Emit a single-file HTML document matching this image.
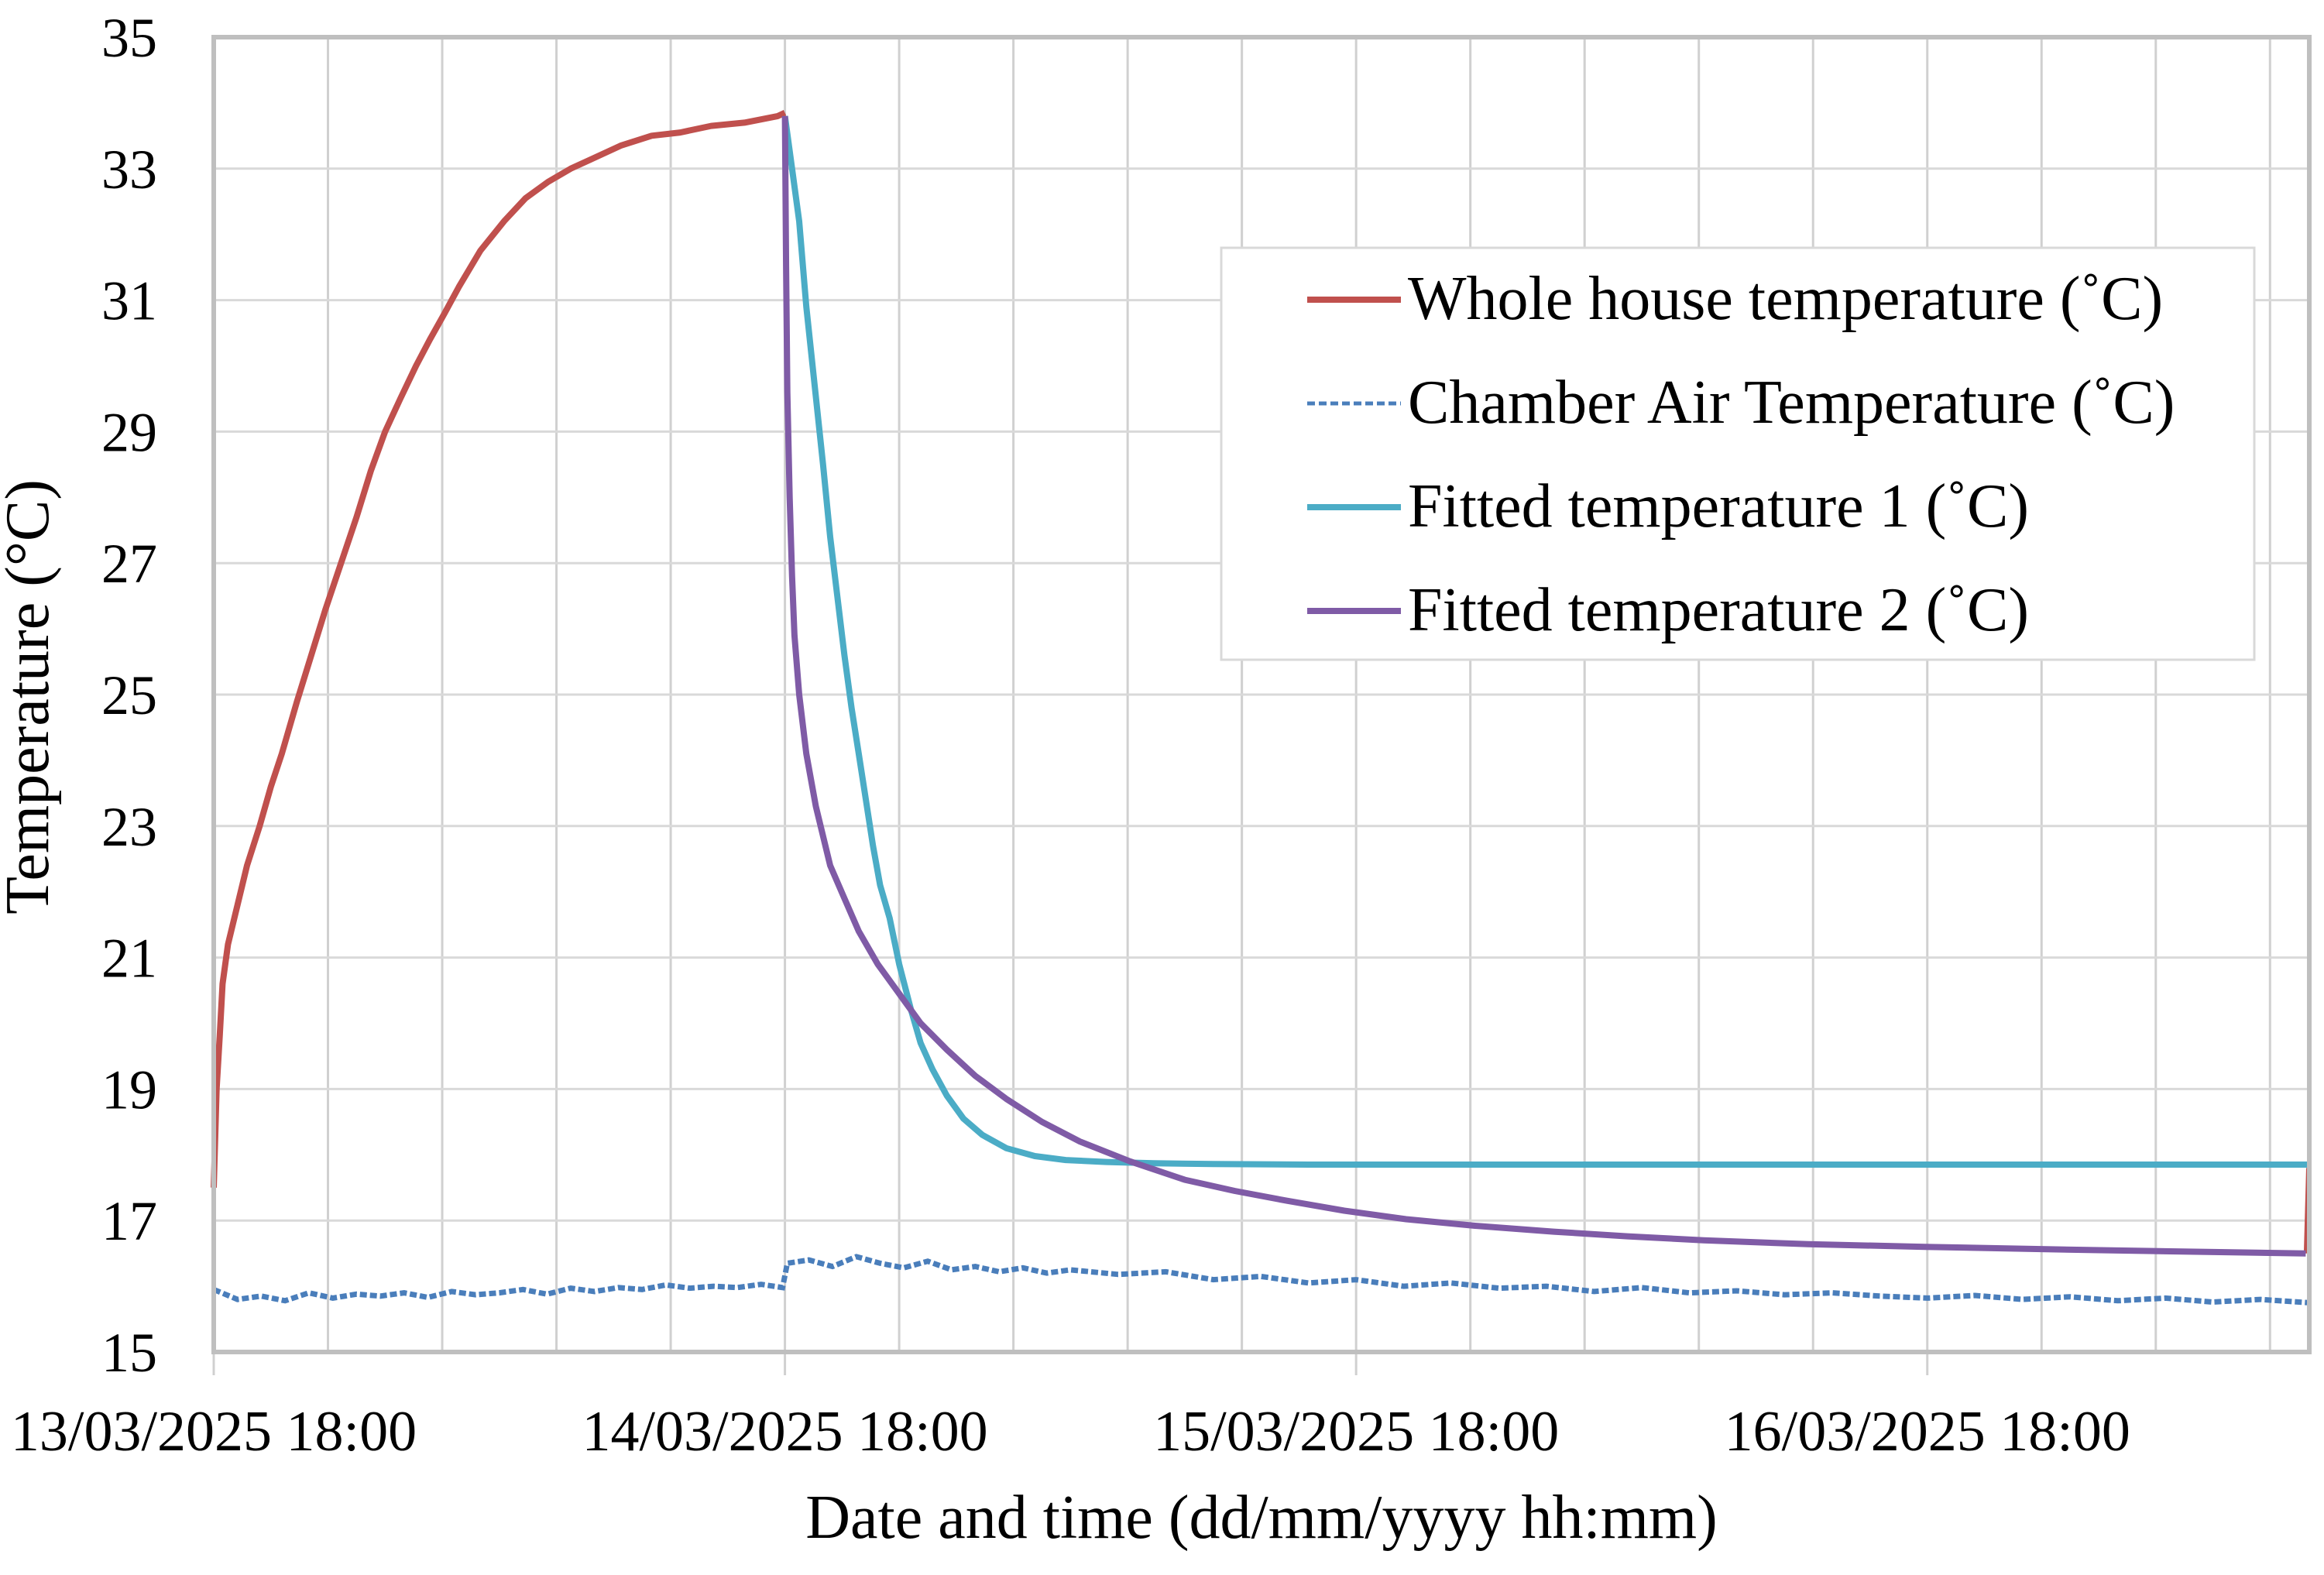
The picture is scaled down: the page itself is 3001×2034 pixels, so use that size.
<!DOCTYPE html>
<html><head><meta charset="utf-8"><style>
html,body{margin:0;padding:0;background:#fff;}
svg{display:block;font-family:"Liberation Serif",serif;}
</style></head><body>
<svg id="chart" width="3001" height="2034" viewBox="0 0 3001 2034">
<g id="grid"></g>
<g id="series"></g>
<g id="axes"></g>
<text x="62" y="900" font-size="80" text-anchor="middle" transform="rotate(-90 62 900)">Temperature (°C)</text>
<text x="1629" y="1986" font-size="80" text-anchor="middle">Date and time (dd/mm/yyyy hh:mm)</text>
<g>
<rect x="1577" y="320" width="1334" height="532" fill="#fff" stroke="#d9d9d9" stroke-width="3"/>
<g><line x1="1688" y1="387" x2="1809" y2="387" stroke="#c0504d" stroke-width="8"/><text x="1818" y="412" font-size="80">Whole house temperature (˚C)</text></g>
<g><line x1="1688" y1="521" x2="1809" y2="521" stroke="#4a7ebb" stroke-width="5" stroke-dasharray="10,5"/><text x="1818" y="546" font-size="80">Chamber Air Temperature (˚C)</text></g>
<g><line x1="1688" y1="655" x2="1809" y2="655" stroke="#4bacc6" stroke-width="8"/><text x="1818" y="680" font-size="80">Fitted temperature 1 (˚C)</text></g>
<g><line x1="1688" y1="789" x2="1809" y2="789" stroke="#7f5ba6" stroke-width="8"/><text x="1818" y="814" font-size="80">Fitted temperature 2 (˚C)</text></g>
</g>
</svg>
<script>
const yTicks=[15,17,19,21,23,25,27,29,31,33,35];
const xTickHours=[0,24,48,72];
const xTickLabels=["13/03/2025 18:00","14/03/2025 18:00","15/03/2025 18:00","16/03/2025 18:00"];
const wholeHouseT=[0,0.12,0.25,0.37,0.6,1.0,1.4,1.93,2.4,2.86,3.5,4.1,4.7,5.35,6.0,6.6,7.2,7.84,8.5,9.08,9.7,10.3,11.2,12.2,13.1,14.05,15.0,15.9,17.1,18.4,19.6,20.9,22.3,23.7,24.0];
const wholeHouseV=[17.5,19.0,19.8,20.6,21.2,21.8,22.4,23.0,23.6,24.1,24.9,25.6,26.3,27.0,27.7,28.4,29.0,29.5,30.0,30.4,30.8,31.2,31.75,32.2,32.55,32.8,33.0,33.15,33.35,33.5,33.55,33.65,33.7,33.8,33.85];
const wholeHouseEndT=[87.9,88.0];
const wholeHouseEndV=[16.5,17.8];
const chamberT=[0,1,2,3,4,5,6,7,8,9,10,11,12,13,14,15,16,17,18,19,20,21,22,23,23.9,24.1,25,26,27,28,29,30,31,32,33,34,35,36,38,40,42,44,46,48,50,52,54,56,58,60,62,64,66,68,70,72,74,76,78,80,82,84,86,88];
const chamberV=[15.95,15.8,15.85,15.78,15.9,15.82,15.88,15.85,15.9,15.83,15.92,15.87,15.9,15.95,15.88,15.97,15.92,15.98,15.95,16.02,15.97,16.0,15.98,16.03,15.98,16.35,16.4,16.3,16.45,16.35,16.28,16.38,16.25,16.3,16.22,16.28,16.2,16.25,16.18,16.22,16.1,16.15,16.05,16.1,16.0,16.05,15.97,16.0,15.92,15.98,15.9,15.93,15.87,15.9,15.85,15.82,15.86,15.8,15.84,15.78,15.82,15.76,15.8,15.75];
const fitted1T=[24.0,24.3,24.6,24.9,25.25,25.6,25.9,26.2,26.5,26.8,27.1,27.4,27.7,28.0,28.4,28.8,29.3,29.7,30.2,30.8,31.5,32.3,33.3,34.5,35.8,37.5,39.5,42,46,88.0];
const fitted1V=[33.8,33.0,32.2,30.9,29.7,28.5,27.4,26.5,25.6,24.8,24.1,23.4,22.7,22.1,21.6,20.9,20.2,19.7,19.3,18.9,18.55,18.3,18.1,17.98,17.92,17.89,17.87,17.86,17.85,17.85];
const fitted2T=[24.0,24.05,24.1,24.2,24.3,24.4,24.6,24.9,25.3,25.9,26.5,27.1,27.9,28.7,29.7,30.8,32.0,33.3,34.8,36.4,38.5,40.8,42.9,45.1,47.5,50.1,53.0,56.3,59.4,62.6,67.0,71.9,79.0,87.9];
const fitted2V=[33.8,31.5,29.6,28.0,26.8,25.9,25.0,24.1,23.3,22.4,21.9,21.4,20.9,20.5,20.0,19.6,19.2,18.85,18.5,18.2,17.9,17.62,17.45,17.3,17.15,17.02,16.92,16.83,16.76,16.7,16.64,16.6,16.55,16.5];

const X0=276,X1=2982,Y0=1746,Y1=48,TMAX=88.05;
function xs(h){return X0+(h/TMAX)*(X1-X0);}
function ys(v){return Y0-(v-15)/20*(Y0-Y1);}
const NS="http://www.w3.org/2000/svg";
function mk(tag,parent,attrs){const e=document.createElementNS(NS,tag);for(const k in attrs)e.setAttribute(k,attrs[k]);parent.appendChild(e);return e;}
const grid=document.getElementById('grid'),axes=document.getElementById('axes'),series=document.getElementById('series');
for(let h=4.8;h<TMAX-0.5;h+=4.8){
  const g=mk('line',grid,{x1:xs(h),x2:xs(h),y1:Y1,y2:Y0,stroke:'#d0d0d0','stroke-width':3});
  
  
}
yTicks.forEach(v=>{
  const g=mk('line',grid,{x1:X0,x2:X1,y1:ys(v),y2:ys(v),stroke:'#d9d9d9','stroke-width':3});
  
  
  const t=mk('text',axes,{x:203,y:ys(v)+25,'font-size':72,'text-anchor':'end'});
  t.textContent=v;
  
  
});
xTickHours.forEach((h,i)=>{
  const tk=mk('line',axes,{x1:xs(h),x2:xs(h),y1:Y0,y2:Y0+30,stroke:'#d0d0d0','stroke-width':3});
  
  
  const t=mk('text',axes,{x:xs(h),y:1873,'font-size':74,'text-anchor':'middle'});
  t.textContent=xTickLabels[i];
  
  
});
const frame=mk('rect',axes,{x:X0,y:Y1,width:X1-X0,height:Y0-Y1,fill:'none',stroke:'#bfbfbf','stroke-width':6});


function path(T,V){return T.map((t,i)=>(i?'L':'M')+xs(t).toFixed(1)+','+ys(V[i]).toFixed(1)).join(' ');}
const p0=mk('path',series,{d:path(chamberT,chamberV),fill:'none',stroke:'#4a7ebb','stroke-width':7,'stroke-dasharray':'9,4'});


const p1=mk('path',series,{d:path(wholeHouseT,wholeHouseV),fill:'none',stroke:'#c0504d','stroke-width':8,'stroke-linejoin':'round'});


const p1b=mk('path',series,{d:path(wholeHouseEndT,wholeHouseEndV),fill:'none',stroke:'#c0504d','stroke-width':5});


const p2=mk('path',series,{d:path(fitted1T,fitted1V),fill:'none',stroke:'#4bacc6','stroke-width':8,'stroke-linejoin':'round'});


const p3=mk('path',series,{d:path(fitted2T,fitted2V),fill:'none',stroke:'#7f5ba6','stroke-width':8,'stroke-linejoin':'round'});


</script>
</body></html>
